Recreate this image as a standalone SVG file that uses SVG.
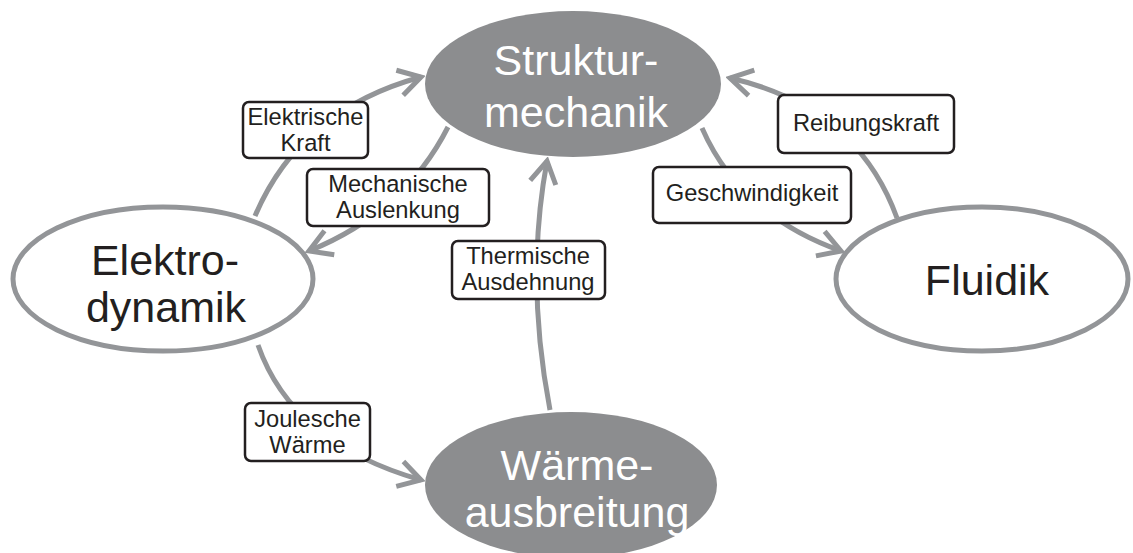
<svg xmlns="http://www.w3.org/2000/svg" width="1133" height="553" viewBox="0 0 1133 553">
<style>
.conn{fill:none;stroke:#939598;stroke-width:5}
.filled{fill:#8c8d8f;stroke:none}
.open{fill:#ffffff;stroke:#939598;stroke-width:5}
.big{font-family:"Liberation Sans",Arial,sans-serif;font-size:43px;text-anchor:middle}
.white{fill:#ffffff}
.dark{fill:#231f20}
.box{fill:#ffffff;stroke:#231f20;stroke-width:2.5}
.lbl{font-family:"Liberation Sans",Arial,sans-serif;font-size:23.7px;text-anchor:middle;fill:#231f20}
</style>
<defs>
<marker id="arr" viewBox="-30 -20 34 40" markerUnits="userSpaceOnUse" markerWidth="34" markerHeight="40" refX="0" refY="0" orient="auto">
<path d="M -22 -13 L 0 0 L -22 13" fill="none" stroke="#939598" stroke-width="5" stroke-linecap="butt" stroke-linejoin="miter"/>
</marker>
</defs>
<g id="connectors">
<path class="conn" d="M 255 216 Q 300 110 421 77" marker-end="url(#arr)"/>
<path class="conn" d="M 448 127 Q 405 212 309 251" marker-end="url(#arr)"/>
<path class="conn" d="M 258 345 Q 292 443 421 480" marker-end="url(#arr)"/>
<path class="conn" d="M 550 410 Q 525 280 547 161" marker-end="url(#arr)"/>
<path class="conn" d="M 702 128 Q 740 215 841 251" marker-end="url(#arr)"/>
<path class="conn" d="M 897 218 Q 857 107 730 78" marker-end="url(#arr)"/>
</g>
<g id="strukturmechanik">
<ellipse class="filled" cx="573" cy="84" rx="148" ry="73"/>
<text class="big white" x="576" y="75">Struktur-</text>
<text class="big white" x="576" y="127">mechanik</text>
</g>
<g id="elektrodynamik">
<ellipse class="open" cx="163" cy="279" rx="150" ry="72"/>
<text class="big dark" x="165" y="275">Elektro-</text>
<text class="big dark" x="166" y="322">dynamik</text>
</g>
<g id="fluidik">
<ellipse class="open" cx="982" cy="279" rx="146" ry="72"/>
<text class="big dark" x="987" y="295">Fluidik</text>
</g>
<g id="waermeausbreitung">
<ellipse class="filled" cx="571" cy="485" rx="146" ry="73"/>
<text class="big white" x="577" y="480">Wärme-</text>
<text class="big white" x="577" y="527">ausbreitung</text>
</g>
<g id="label-elektrische-kraft">
<rect class="box" x="243" y="102" width="125" height="56" rx="6"/>
<text class="lbl" x="305.5" y="125">Elektrische</text>
<text class="lbl" x="305.5" y="151">Kraft</text>
</g>
<g id="label-mechanische-auslenkung">
<rect class="box" x="307" y="169" width="182" height="57" rx="6"/>
<text class="lbl" x="398" y="192">Mechanische</text>
<text class="lbl" x="398" y="218">Auslenkung</text>
</g>
<g id="label-thermische-ausdehnung">
<rect class="box" x="452" y="241" width="153" height="58" rx="6"/>
<text class="lbl" x="528" y="264">Thermische</text>
<text class="lbl" x="528" y="290">Ausdehnung</text>
</g>
<g id="label-joulesche-waerme">
<rect class="box" x="245" y="403" width="125" height="58" rx="6"/>
<text class="lbl" x="307.5" y="427">Joulesche</text>
<text class="lbl" x="307.5" y="453">Wärme</text>
</g>
<g id="label-geschwindigkeit">
<rect class="box" x="653" y="167" width="198" height="56" rx="6"/>
<text class="lbl" x="752" y="201">Geschwindigkeit</text>
</g>
<g id="label-reibungskraft">
<rect class="box" x="778" y="95" width="176" height="58" rx="6"/>
<text class="lbl" x="866" y="131">Reibungskraft</text>
</g>
</svg>
